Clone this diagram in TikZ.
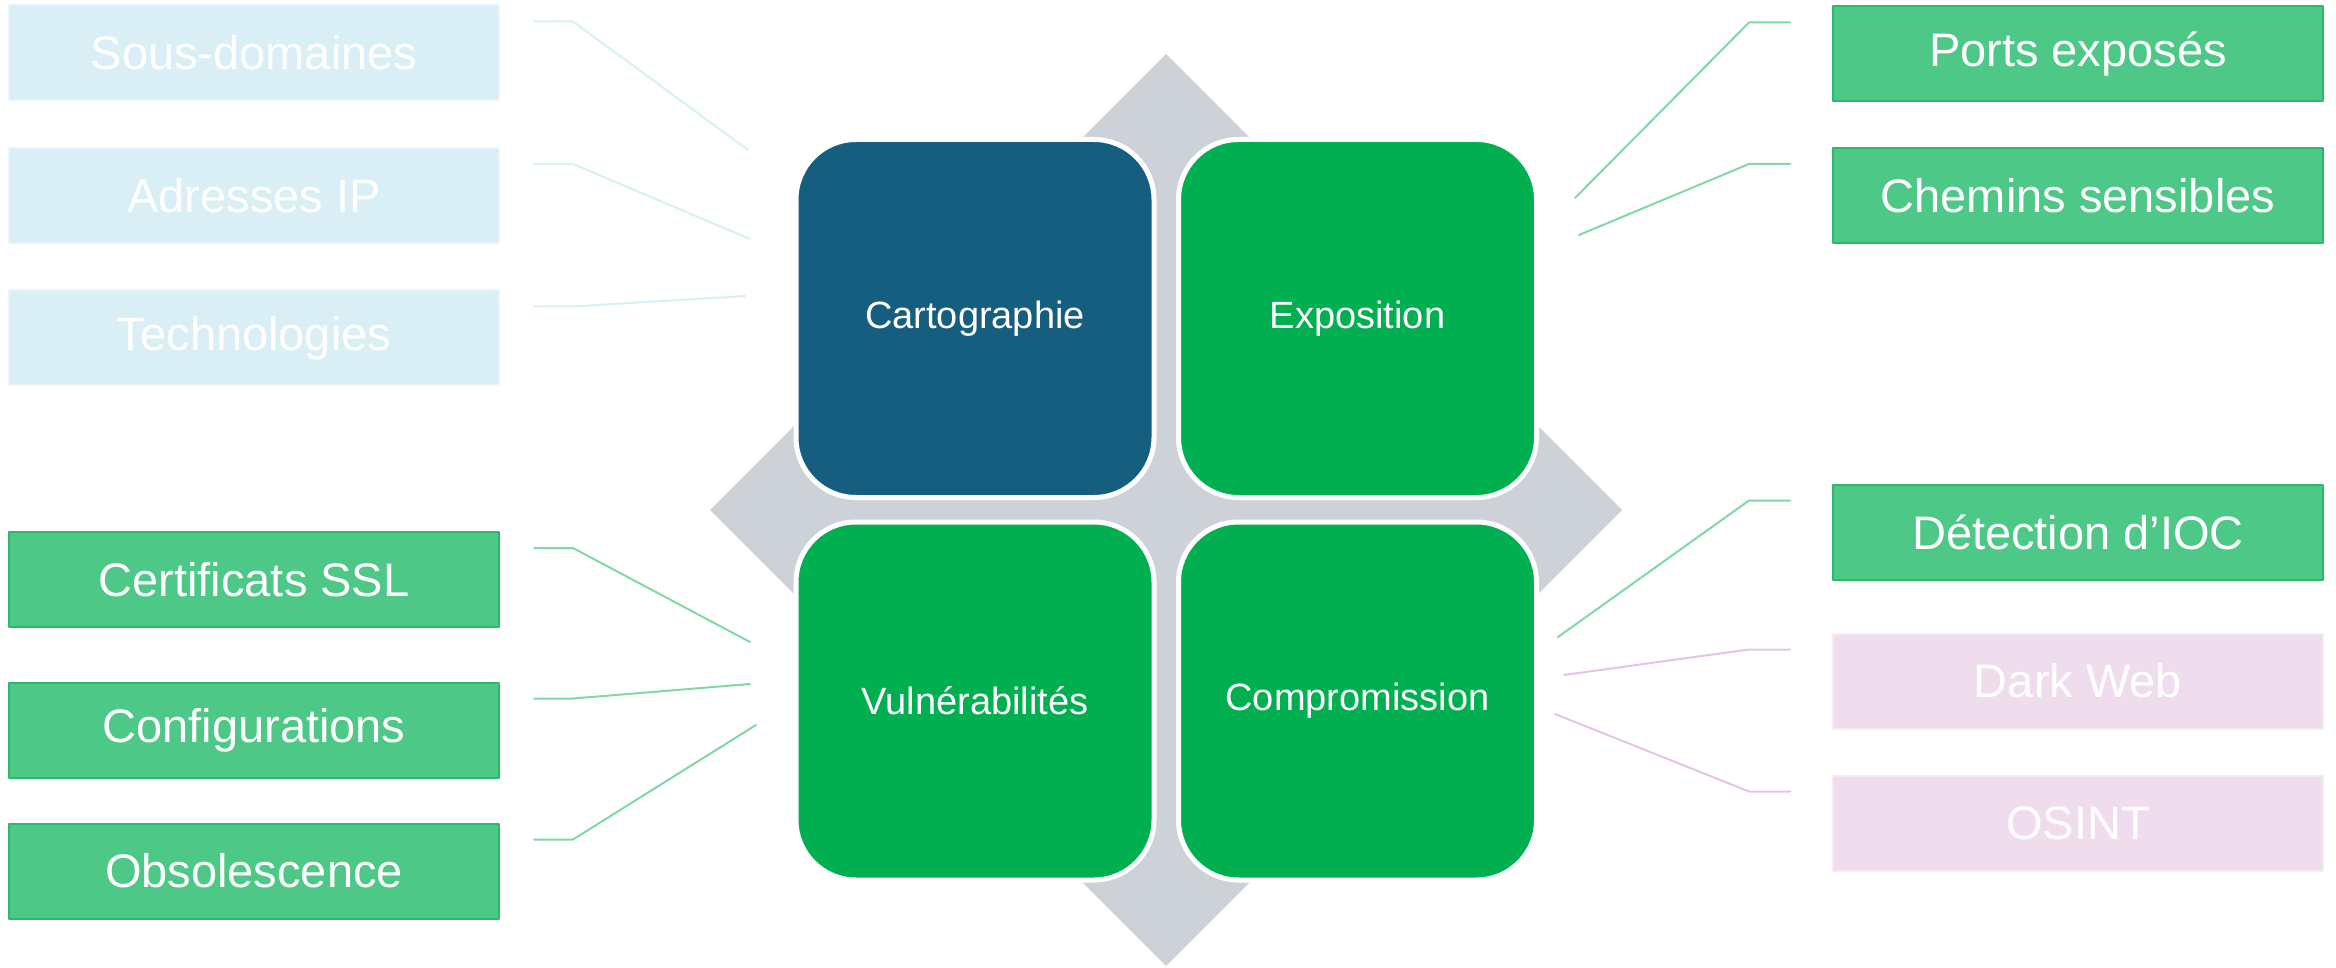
\documentclass[tikz,border=0pt]{standalone}
\usepackage{fontspec}
\setmainfont{Liberation Sans}
\usetikzlibrary{calc}
\definecolor{cartoblue}{RGB}{22,94,128}
\definecolor{maingreen}{RGB}{0,176,80}
\definecolor{leafgreen}{RGB}{78,200,134}
\definecolor{leafgreenedge}{RGB}{44,186,104}
\definecolor{leafblue}{RGB}{218,238,246}
\definecolor{leafpink}{RGB}{239,221,238}
\definecolor{crossgray}{RGB}{205,210,216}
\definecolor{linkgreen}{RGB}{128,216,166}
\definecolor{linkblue}{RGB}{216,240,244}
\definecolor{linkpink}{RGB}{228,196,230}

\begin{document}
\begin{tikzpicture}[x=0.5pt,y=-0.5pt,line cap=round,line join=round,
  quad/.style={fill=#1,draw=white,line width=2.5pt,rounded corners=30pt,
    minimum width=179pt,minimum height=179pt,inner sep=0pt,
    text=white,font=\fontsize{19}{22}\selectfont},
  side/.style={minimum width=245pt,minimum height=47.5pt,inner sep=0pt,
    line width=1pt,text=white,font=\fontsize{23.5}{27}\selectfont},
  sideblue/.style={side,fill=leafblue,draw=leafblue!60!white},
  sidegreen/.style={side,fill=leafgreen,draw=leafgreenedge},
  sidepink/.style={side,fill=leafpink,draw=leafpink!60!white},
  link/.style={line width=1pt}]
\useasboundingbox (0,0) rectangle (2336,968);
% grey cross behind the four blocks
\fill[crossgray] (1166,54) -- (1622,510) -- (1166,966) -- (710,510) -- cycle;
\node[quad=cartoblue] (carto) at (975,318.5) {Cartographie};
\node[quad=maingreen] (expo) at (1357.5,318.5) {Exposition};
\node[quad=maingreen] (vuln) at (975,701) {Vulnérabilités};
\node[quad=maingreen] (compro) at (1357.5,701) {Compromission};
% left column
\node[sideblue] (sous) at (254,53) {Sous-domaines};
\node[sideblue] (adresses) at (254,195.5) {Adresses IP};
\node[sideblue] (techno) at (254,338) {Technologies};
\node[sidegreen] (certif) at (254,579.5) {Certificats SSL};
\node[sidegreen] (config) at (254,730) {Configurations};
\node[sidegreen] (obsol) at (254,871) {Obsolescence};
% right column
\node[sidegreen] (ports) at (2078,54) {Ports exposés};
\node[sidegreen] (chemins) at (2078,195.5) {Chemins sensibles};
\node[sidegreen] (ioc) at (2078,532) {Détection d’IOC};
\node[sidepink] (darkweb) at (2078,681) {Dark Web};
\node[sidepink] (osint) at (2078,823) {OSINT};
% free ends of the leader lines
\coordinate (s1) at (748,150);
\coordinate (s2) at (750,239);
\coordinate (s3) at (745,296);
\coordinate (v1) at (750,642);
\coordinate (v2) at (750,684);
\coordinate (v3) at (756,725);
\coordinate (e1) at (1575,198);
\coordinate (e2) at (1579,235);
\coordinate (c1) at (1558,637);
\coordinate (c2) at (1564,675);
\coordinate (c3) at (1555,714);
\foreach \n/\e in {sous/s1,adresses/s2,techno/s3}
\draw[link,linkblue] ($(\n.north east)+(34,17)$) -- ++(39,0) -- (\e);
\foreach \n/\e in {certif/v1,config/v2,obsol/v3}
\draw[link,linkgreen] ($(\n.north east)+(34,17)$) -- ++(39,0) -- (\e);
\foreach \n/\e in {ports/e1,chemins/e2,ioc/c1}
\draw[link,linkgreen] ($(\n.north west)+(-42,17)$) -- ++(-41,0) -- (\e);
\foreach \n/\e in {darkweb/c2,osint/c3}
\draw[link,linkpink] ($(\n.north west)+(-42,17)$) -- ++(-41,0) -- (\e);
\end{tikzpicture}
\end{document}
